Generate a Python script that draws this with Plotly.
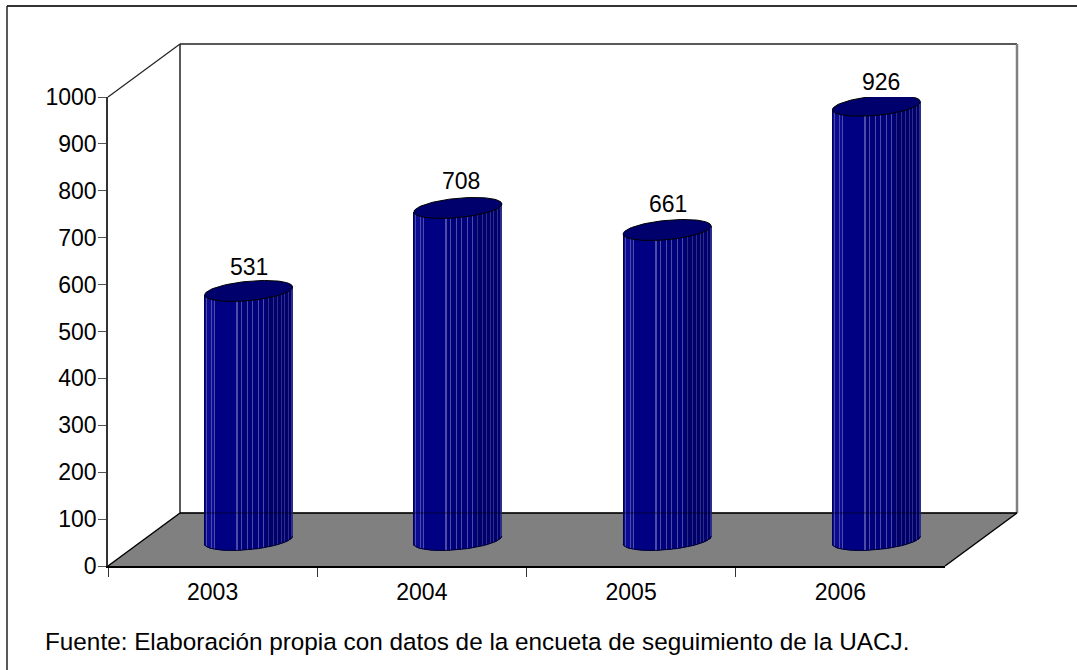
import math
import plotly.graph_objects as go

# --- data ---
years = ["2003", "2004", "2005", "2006"]
values = [531, 708, 661, 926]
y_ticks = [0, 100, 200, 300, 400, 500, 600, 700, 800, 900, 1000]
source_note = "Fuente: Elaboración propia con datos de la encueta de seguimiento de la UACJ."

# --- canvas geometry (pixels) ---
W, H = 1077, 670
FX0, FX1, FY0, FY1 = 108, 945, 566, 97      # front plane of the axes
DX, DY = 72, 53                             # depth of the box
CAT_PX = (FX1 - FX0) / len(years)
PX_PER_UNIT = (FY0 - FY1) / 1000
CYL_SHIFT_X = 36                            # cylinders stand this far behind the front plane
CYL_SHIFT_Y = 26
CYL_W = 88
RY = 9.7
TILT = 4.0
FONT = "Liberation Sans, Arial, sans-serif"
FS = 23


def px(x):
    return x / W


def py(y):
    return 1 - y / H


def poly(points):
    return "M" + " L".join(f"{px(x):.5f},{py(y):.5f}" for x, y in points) + " Z"


# vertical stripe shading across a cylinder
light_lines = [0.03, 0.08, 0.115, 0.375, 0.43, 0.495, 0.55, 0.62, 0.68, 0.735, 0.79, 0.84, 0.88, 0.92, 0.955, 0.99]


def shade(f):
    if f < 0.012 or f > 0.99:
        return "#000050"
    if f < 0.13:
        return "#0a0a92"
    if f < 0.38:
        return "#000082"
    if f < 0.7:
        return "#00007a"
    return "#00006a"


strip_fracs = [(i + 0.5) / CYL_W for i in range(CYL_W)]
strip_colors = []
for f in strip_fracs:
    near = any(abs(f - l) < 0.5 / CYL_W for l in light_lines)
    if near:
        strip_colors.append("#4c4ca6" if f < 0.7 else "#2e2e8a")
    else:
        strip_colors.append(shade(f))

fig = go.Figure()

# invisible trace that establishes the category axis
fig.add_trace(go.Scatter(x=years, y=values, mode="markers", marker=dict(opacity=0, size=1),
                         xaxis="x", yaxis="y", hoverinfo="skip", showlegend=False))

for i, (yr, v) in enumerate(zip(years, values)):
    xs, bases, tops = [], [], []
    for f in strip_fracs:
        u = 2 * f - 1
        off = u * CYL_W / 2 / CAT_PX
        rim_px = -TILT * u + RY * math.sqrt(max(0, 1 - u * u))   # screen px below the centre
        xs.append(i + off)
        bases.append(-rim_px / PX_PER_UNIT)
        tops.append(v + (TILT * u + rim_px) / PX_PER_UNIT)
    fig.add_trace(go.Bar(x=xs, y=tops, base=bases, width=[1.02 / CAT_PX] * CYL_W,
                         marker=dict(color=strip_colors, line=dict(width=0)),
                         xaxis="x2", yaxis="y2", hoverinfo="skip", showlegend=False, name=yr))
    # rim of the cylinder foot
    ts = [math.pi * k / 60 for k in range(61)]
    fig.add_trace(go.Scatter(
        x=[i + math.cos(t) * CYL_W / 2 / CAT_PX for t in ts],
        y=[(TILT * math.cos(t) - RY * math.sin(t)) / PX_PER_UNIT for t in ts],
        mode="lines", line=dict(color="#000030", width=1),
        xaxis="x2", yaxis="y2", hoverinfo="skip", showlegend=False))
    # cap
    ts = [2 * math.pi * k / 120 for k in range(121)]
    fig.add_trace(go.Scatter(
        x=[i + math.cos(t) * CYL_W / 2 / CAT_PX for t in ts],
        y=[v + (TILT * math.cos(t) + RY * math.sin(t)) / PX_PER_UNIT for t in ts],
        mode="lines", fill="toself", fillcolor="#00006c", line=dict(color="#000000", width=1),
        xaxis="x2", yaxis="y2", hoverinfo="skip", showlegend=False))

label_dy = [24, 27, 26, 24]
label_dx = [0, 3, 1, 5]
annotations = [
    dict(x=i, y=v, xref="x2", yref="y2", text=str(v), showarrow=False, yshift=label_dy[i],
         xshift=label_dx[i], font=dict(family=FONT, size=FS, color="#000000"))
    for i, v in enumerate(values)
]
annotations.append(dict(x=px(43), y=py(641), xref="paper", yref="paper", xanchor="left", yanchor="middle",
                        text=source_note, showarrow=False, font=dict(family=FONT, size=24.3, color="#000000")))

wall = "#222222"
shapes = [
    dict(type="path", xref="paper", yref="paper", layer="below", fillcolor="#808080", line=dict(width=0),
         path=poly([(FX0, FY0), (FX0 + DX, FY0 - DY), (FX1 + DX, FY0 - DY), (FX1, FY0)])),
    dict(type="line", xref="paper", yref="paper", layer="below", line=dict(color="#000000", width=1.5),
         x0=px(FX0), y0=py(FY0), x1=px(FX0 + DX), y1=py(FY0 - DY)),
    dict(type="line", xref="paper", yref="paper", layer="below", line=dict(color="#000000", width=1.5),
         x0=px(FX1), y0=py(FY0), x1=px(FX1 + DX), y1=py(FY0 - DY)),
    dict(type="line", xref="paper", yref="paper", layer="below", line=dict(color=wall, width=1.2),
         x0=px(FX0), y0=py(FY1), x1=px(FX0 + DX), y1=py(FY1 - DY)),
    dict(type="line", xref="paper", yref="paper", layer="below", line=dict(color=wall, width=1.5),
         x0=px(FX0 + DX), y0=py(FY1 - DY), x1=px(FX1 + DX), y1=py(FY1 - DY)),
    dict(type="line", xref="paper", yref="paper", layer="below", line=dict(color=wall, width=1.5),
         x0=px(FX0 + DX), y0=py(FY1 - DY), x1=px(FX0 + DX), y1=py(FY0 - DY)),
    dict(type="line", xref="paper", yref="paper", layer="below", line=dict(color="#808080", width=2.5),
         x0=px(FX1 + DX), y0=py(FY1 - DY), x1=px(FX1 + DX), y1=py(FY0 - DY)),
    # back edge of the floor, faintly visible through the cylinders
    dict(type="line", xref="paper", yref="paper", layer="above", line=dict(color="#000000", width=1.5),
         opacity=0.35, x0=px(FX0 + DX), y0=py(FY0 - DY), x1=px(FX1 + DX), y1=py(FY0 - DY)),
    dict(type="line", xref="paper", yref="paper", layer="below", line=dict(color="#000000", width=1.5),
         x0=px(FX0 + DX), y0=py(FY0 - DY), x1=px(FX1 + DX), y1=py(FY0 - DY)),
    # outer frame: only the top and left edges are in view
    dict(type="line", xref="paper", yref="paper", layer="below", line=dict(color="#333333", width=2),
         x0=px(7), y0=py(6), x1=1, y1=py(6)),
    dict(type="line", xref="paper", yref="paper", layer="below", line=dict(color="#222222", width=1.5),
         x0=px(7), y0=py(6), x1=px(7), y1=0),
]

fig.update_layout(
    width=W, height=H, autosize=False,
    margin=dict(l=0, r=0, t=0, b=0, pad=0, autoexpand=False),
    paper_bgcolor="#ffffff", plot_bgcolor="rgba(0,0,0,0)",
    barmode="overlay", showlegend=False,
    font=dict(family=FONT, size=FS, color="#000000"),
    shapes=shapes, annotations=annotations,
    xaxis=dict(type="category", categoryorder="array", categoryarray=years, range=[-0.5, 3.5],
               domain=[px(FX0), px(FX1)], tickson="boundaries", ticks="outside", ticklen=9,
               tickcolor="#333333", tickwidth=1, showline=True, linecolor="#000000", linewidth=1.5,
               showgrid=False, zeroline=False, anchor="y", tickfont=dict(family=FONT, size=FS),
               ticklabelstandoff=5),
    yaxis=dict(range=[0, 1000], domain=[py(FY0), py(FY1)], tickvals=y_ticks, ticks="outside", ticklen=8,
               tickcolor="#555555", tickwidth=1, showline=True, linecolor="#333333", linewidth=1.5,
               showgrid=False, zeroline=False, anchor="x", tickfont=dict(family=FONT, size=FS),
               ticklabelstandoff=-3),
    # depth plane: same scale as the front axes, shifted back to where the cylinders stand
    xaxis2=dict(overlaying="x", range=[-0.5 - CYL_SHIFT_X / CAT_PX, 3.5 - CYL_SHIFT_X / CAT_PX],
                visible=False, anchor="y2"),
    yaxis2=dict(overlaying="y", range=[-CYL_SHIFT_Y / PX_PER_UNIT, 1000 - CYL_SHIFT_Y / PX_PER_UNIT],
                visible=False, anchor="x2"),
)

fig.write_html("out.html", config=dict(displayModeBar=False),
               post_script="document.body.style.margin='0';document.documentElement.style.overflow='hidden';")
